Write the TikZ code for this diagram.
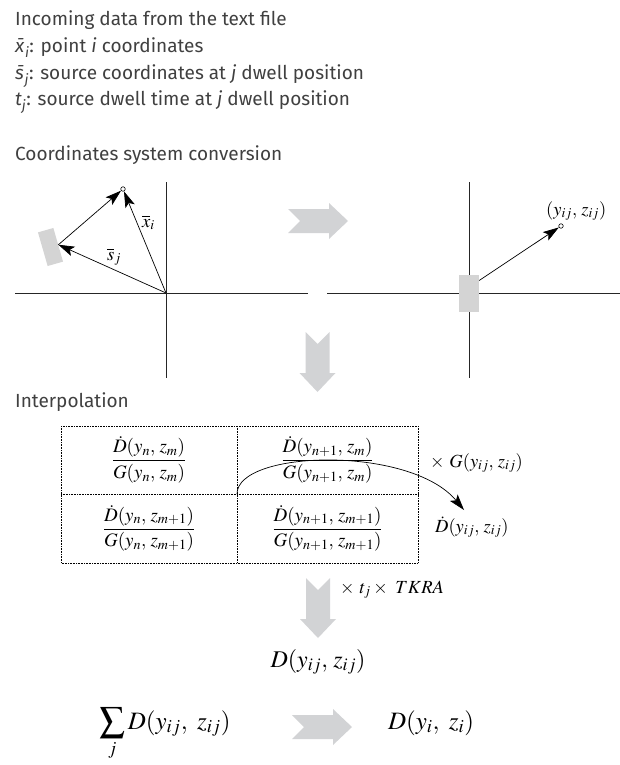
\documentclass[tikz,border=0pt]{standalone}
\usepackage{amsmath}
\usepackage{mathptmx}
\usepackage[no-math]{fontspec}
\setmainfont{Fira Sans}
\usetikzlibrary{arrows.meta}
\definecolor{arrowgray}{HTML}{D2D3D5}
\definecolor{boxgray}{HTML}{D4D4D4}
\definecolor{textgray}{HTML}{404040}

\tikzset{
  bigarrow/.pic={\fill[arrowgray] (0,12) -- (41,12) -- (41,18) -- (60,0) -- (41,-18) -- (41,-12) -- (0,-12) -- (12,0) -- cycle;},
  infotext/.style={anchor=base west, inner sep=0pt, text=textgray, font=\fontsize{19}{22}\selectfont},
  mathlbl/.style={anchor=base west, inner sep=0pt, font=\fontsize{18.5}{22}\selectfont},
  cellmath/.style={inner sep=0pt, font=\fontsize{19}{22}\selectfont},
  bigmath/.style={anchor=base, inner sep=0pt, font=\fontsize{24}{28}\selectfont},
  vec/.style={line width=0.7pt, -{Stealth[length=16pt, width=10pt, inset=3.5pt]}},
  axis/.style={line width=0.8pt, black!85},
  pt/.style={circle, draw, line width=0.6pt, inner sep=1.6pt}
}

\begin{document}
\begin{tikzpicture}[x=1pt, y=-1pt]
\useasboundingbox (0,0) rectangle (620,765);
% notes from the text file
\node[infotext] (l1) at (15,26) {Incoming data from the text file};
\node[infotext] (l2) at (15,53) {\textit{\={x}}\textsubscript{\textit{i}}: point \textit{i} coordinates};
\node[infotext] (l3) at (15,80) {\textit{\={s}}\textsubscript{\textit{j}}: source coordinates at \textit{j} dwell position};
\node[infotext] (l4) at (15,106) {\textit{t}\textsubscript{\textit{j}}: source dwell time at \textit{j} dwell position};
\node[infotext] (conv) at (15,160) {Coordinates system conversion};

% left axes
\draw[axis] (15,293) -- (308,293);
\draw[axis] (166,182) -- (166,378);
\coordinate (O) at (166,293);
\node[fill=boxgray, minimum width=16pt, minimum height=35pt, inner sep=0pt, rotate=16] (srcL) at (50.5,247) {};
\node[pt] (pL) at (123,189) {};
\draw[vec] (O) -- (srcL.east);
\draw[vec] (srcL.east) -- (pL);
\draw[vec] (O) -- (pL);
\node[mathlbl] (xlbl) at (142,227) {$\overline{x}_i$};
\node[mathlbl] (slbl) at (107,260) {$\overline{s}_j$};

\pic at (288,221) {bigarrow};

% right axes
\draw[axis] (327,293) -- (620,293);
\draw[axis] (469,182) -- (469,378);
\node[fill=boxgray, minimum width=20pt, minimum height=37pt, inner sep=0pt] (srcR) at (469,293.5) {};
\node[pt] (pR) at (561,226) {};
\draw[vec] ([yshift=13pt]srcR.east) -- (pR);
\node[mathlbl] (ylbl) at (546,215) {$(y_{ij},\, z_{ij})$};

\pic[rotate=-90] at (317.5,332) {bigarrow};

% interpolation grid
\node[infotext] (interp) at (15,407) {Interpolation};
\draw[densely dotted, line width=0.6pt] (61,426) rectangle (418,563);
\draw[densely dotted, line width=0.6pt] (237,426) -- (237,563);
\draw[densely dotted, line width=0.6pt] (61,494) -- (418,494);
\coordinate (tc) at (237,494);
\node[cellmath] (c11) at (149,460) {$\dfrac{\dot{D}(y_n,\, z_m)}{G(y_n,\, z_m)}$};
\node[cellmath] (c12) at (327.5,460) {$\dfrac{\dot{D}(y_{n+1},\, z_m)}{G(y_{n+1},\, z_m)}$};
\node[cellmath] (c21) at (149,528.5) {$\dfrac{\dot{D}(y_n,\, z_{m+1})}{G(y_n,\, z_{m+1})}$};
\node[cellmath] (c22) at (327.5,528.5) {$\dfrac{\dot{D}(y_{n+1},\, z_{m+1})}{G(y_{n+1},\, z_{m+1})}$};
\node[mathlbl] (gmul) at (430,467) {$\times\ G(y_{ij},\, z_{ij})$};
\node[mathlbl] (dotd) at (435,532) {$\dot{D}(y_{ij},\, z_{ij})$};
\coordinate (tip) at (464,510);
\draw[vec] (tc) .. controls (237,450) and (410,445) .. (tip);

\pic[rotate=-90] at (318,578) {bigarrow};
\node[mathlbl] (tmul) at (340,593) {$\times\ t_j \times\ TKRA$};
\node[bigmath] (dose) at (318,667) {$D(y_{ij},\, z_{ij})$};

% summation over dwell positions
\node[bigmath, font=\fontsize{25}{29}\selectfont] (sum) at (165,729) {$\displaystyle\sum_j D(y_{ij},\ z_{ij})$};
\pic at (292,727) {bigarrow};
\node[bigmath, font=\fontsize{25}{29}\selectfont] (total) at (431,729) {$D(y_i,\ z_i)$};
\end{tikzpicture}
\end{document}
